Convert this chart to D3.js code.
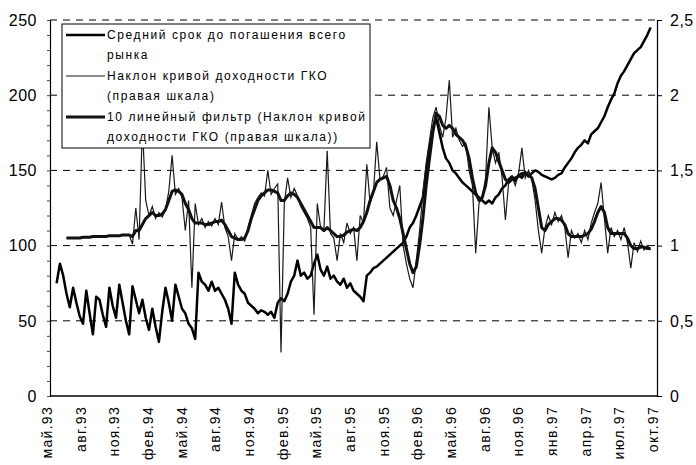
<!DOCTYPE html>
<html><head><meta charset="utf-8">
<script src="https://cdn.jsdelivr.net/npm/d3@7"></script>
<style>
body{margin:0;background:#fff;}
svg{display:block;font-family:"Liberation Sans",Arial,sans-serif;}
</style></head><body>
<svg id="chart" width="696" height="465"></svg>
<script>
// ---- data ----
const xLabels = ["май.93","авг.93","ноя.93","фев.94","май.94","авг.94","ноя.94","фев.95","май.95","авг.95","ноя.95","фев.96","май.96","авг.96","ноя.96","янв.97","апр.97","июл.97","окт.97"];
const tickFirst = -0.9, tickEvery = 10.2;   // label positions in observation index units
const leftTicks = [0,50,100,150,200,250];
const rightTicks = [0,0.5,1,1.5,2,2.5];
const rightTickLabels = ["0","0,5","1","1,5","2","2,5"];

// Средний срок до погашения всего рынка (left axis, days)
const maturity = [null,null,
 75,88,80,68,59,72,62,53,48,70,
 55,41,66,64,54,46,72,60,52,74,
 62,50,41,73,64,55,64,52,44,58,
 46,36,56,72,62,50,74,66,58,55,
 48,45,38,82,76,74,70,76,70,72,
 68,64,58,48,82,74,70,68,62,60,
 58,55,57,56,54,56,52,62,65,63,
 68,76,80,90,80,82,78,80,88,94,
 84,80,86,78,80,76,74,78,72,75,
 70,68,66,63,80,82,85,86,88,90,
 92,94,96,98,100,102,106,112,115,120,
 126,132,150,165,178,185,175,165,158,155,
 150,148,145,142,140,138,136,134,132,130,
 128,130,128,132,134,138,140,144,146,143,
 147,145,149,146,148,150,149,147,146,145,
 144,145,147,148,152,155,158,162,165,167,
 170,168,174,176,178,182,186,192,197,201,
 208,213,216,220,224,228,230,232,236,240,
 245];

// Наклон кривой доходности ГКО (right axis)
const slope = [null,null,null,null,null,
 1.05,1.05,1.05,1.05,1.05,1.055,1.055,1.055,1.06,1.06,
 1.06,1.06,1.06,1.065,1.065,1.065,1.065,1.07,1.07,1.07,
 1.01,1.25,1.04,1.80,1.30,1.20,1.26,1.18,1.22,1.19,
 1.24,1.36,1.60,1.34,1.38,1.32,1.10,1.30,0.72,1.28,
 1.14,1.18,1.12,1.16,1.13,1.18,1.14,1.29,1.12,1.06,
 0.90,1.08,1.04,1.06,1.03,1.12,1.20,1.28,1.32,1.35,
 1.33,1.50,1.34,1.38,1.41,0.29,1.28,1.45,1.32,1.38,
 1.33,1.26,1.22,1.18,1.12,0.54,1.28,1.12,1.10,1.63,
 1.08,1.05,0.90,1.08,1.02,1.15,1.08,1.12,0.90,1.20,
 1.15,1.54,1.28,1.35,1.69,1.44,1.46,1.52,1.25,1.20,
 1.30,1.40,1.00,0.88,0.78,0.72,0.90,1.10,1.35,1.55,
 1.70,1.85,1.92,1.80,1.72,1.85,2.10,1.72,1.78,1.70,
 1.66,1.68,1.50,1.40,0.95,1.28,1.32,1.45,1.92,1.65,
 1.55,1.62,1.45,1.17,1.42,1.46,1.40,1.48,1.65,1.45,
 1.50,1.44,1.30,1.10,0.95,1.12,1.20,1.14,1.22,1.16,
 1.20,1.12,0.92,1.10,1.05,1.08,1.02,1.10,1.04,1.15,
 1.22,1.28,1.42,1.18,0.95,1.12,1.06,1.10,1.04,1.12,
 1.02,0.85,1.02,0.96,1.03,0.97,1.00,0.97];

// 10 линейный фильтр (right axis)
const slopeFilter = [null,null,null,null,null,
 1.05,1.05,1.05,1.05,1.05,1.055,1.055,1.055,1.06,1.06,
 1.06,1.06,1.06,1.065,1.065,1.065,1.065,1.07,1.07,1.07,
 1.06,1.10,1.10,1.14,1.18,1.20,1.22,1.20,1.20,1.21,
 1.24,1.30,1.36,1.37,1.36,1.34,1.28,1.24,1.18,1.15,
 1.15,1.15,1.14,1.14,1.15,1.16,1.16,1.17,1.14,1.10,
 1.06,1.05,1.04,1.04,1.05,1.10,1.18,1.24,1.30,1.33,
 1.35,1.37,1.37,1.36,1.35,1.30,1.30,1.33,1.35,1.34,
 1.32,1.28,1.24,1.20,1.16,1.12,1.12,1.12,1.10,1.12,
 1.10,1.08,1.06,1.06,1.07,1.09,1.10,1.11,1.10,1.12,
 1.16,1.22,1.30,1.36,1.42,1.44,1.45,1.46,1.40,1.30,
 1.25,1.18,1.08,0.98,0.88,0.82,0.86,1.00,1.18,1.40,
 1.58,1.75,1.88,1.86,1.80,1.78,1.80,1.78,1.74,1.72,
 1.70,1.66,1.58,1.45,1.35,1.30,1.32,1.40,1.55,1.65,
 1.62,1.56,1.50,1.44,1.42,1.44,1.45,1.46,1.48,1.48,
 1.47,1.45,1.38,1.25,1.12,1.10,1.14,1.16,1.18,1.18,
 1.17,1.14,1.08,1.06,1.06,1.06,1.06,1.07,1.08,1.11,
 1.16,1.22,1.26,1.22,1.12,1.08,1.08,1.08,1.08,1.08,
 1.05,1.00,0.98,0.98,0.99,0.99,0.98,0.98];

const legendItems = [
  {lines:["Средний срок до погашения всего","рынка"], key:"maturity"},
  {lines:["Наклон кривой доходности ГКО","(правая шкала)"], key:"slope"},
  {lines:["10 линейный фильтр (Наклон кривой","доходности ГКО (правая шкала))"], key:"filter"}
];

// ---- layout ----
const svg = d3.select("#chart");
const plot = {left:50, right:657, top:20, bottom:396};
const x = d3.scaleLinear().domain([0, 183]).range([plot.left, plot.left + 183*3.3]);
const yL = d3.scaleLinear().domain([0,250]).range([plot.bottom, plot.top]);
const yR = d3.scaleLinear().domain([0,2.5]).range([plot.bottom, plot.top]);

const styles = {
  maturity:{stroke:"#000", width:2.5},
  slope:{stroke:"#1a1a1a", width:1.2},
  filter:{stroke:"#111", width:3}
};

// gridlines (dashed)
svg.append("g").selectAll("line").data(leftTicks.filter(d=>d>0)).join("line")
  .attr("x1", plot.left).attr("x2", plot.right)
  .attr("y1", d=>yL(d)).attr("y2", d=>yL(d))
  .attr("stroke","#000").attr("stroke-width",1)
  .attr("stroke-dasharray","7,6");

// left axis
const leftAxis = d3.axisLeft(yL).tickValues(d3.range(0,251,10)).tickSize(3).tickFormat("");
const gl = svg.append("g").attr("transform",`translate(${plot.left},0)`).call(leftAxis);
gl.select(".domain").attr("stroke","#000").attr("stroke-width",1.2);
gl.selectAll(".tick line").attr("stroke","#444");
svg.append("g").selectAll("text").data(leftTicks).join("text")
  .attr("x", 37).attr("y", d=>yL(d)).attr("dy","0.36em")
  .attr("text-anchor","end").attr("font-size",16).attr("letter-spacing",0.5)
  .attr("fill","#000").text(d=>d);

// right axis
const rightAxis = d3.axisRight(yR).tickValues(rightTicks).tickSize(5).tickFormat("");
const gr = svg.append("g").attr("transform",`translate(${plot.right},0)`).call(rightAxis);
gr.select(".domain").attr("stroke","#000").attr("stroke-width",1.2);
gr.selectAll(".tick line").attr("stroke","#000");
svg.append("g").selectAll("text").data(rightTicks).join("text")
  .attr("x", 670).attr("y", d=>yR(d)).attr("dy","0.36em")
  .attr("text-anchor","start").attr("font-size",16).attr("letter-spacing",0.5)
  .attr("fill","#000").text((d,i)=>rightTickLabels[i]);

// bottom axis
const tickIdx = xLabels.map((_,k)=>tickFirst + tickEvery*k);
svg.append("line").attr("x1",plot.left).attr("x2",plot.right)
  .attr("y1",plot.bottom).attr("y2",plot.bottom)
  .attr("stroke","#000").attr("stroke-width",1.5);
svg.append("g").selectAll("text").data(xLabels).join("text")
  .attr("transform",(d,k)=>`translate(${x(tickIdx[k])},406) rotate(-90)`)
  .attr("dy","0.36em").attr("text-anchor","end")
  .attr("font-size",14).attr("letter-spacing",1.3).attr("fill","#000")
  .text(d=>d);

// series
const lineL = d3.line().defined(d=>d!=null).x((d,i)=>x(i)).y(d=>yL(d));
const lineR = d3.line().defined(d=>d!=null).x((d,i)=>x(i)).y(d=>yR(d));
svg.append("path").datum(maturity).attr("d",lineL)
  .attr("fill","none").attr("stroke",styles.maturity.stroke).attr("stroke-width",styles.maturity.width).attr("stroke-linejoin","round");
svg.append("path").datum(slope).attr("d",lineR)
  .attr("fill","none").attr("stroke",styles.slope.stroke).attr("stroke-width",styles.slope.width);
svg.append("path").datum(slopeFilter).attr("d",lineR)
  .attr("fill","none").attr("stroke",styles.filter.stroke).attr("stroke-width",styles.filter.width).attr("stroke-linejoin","round");

// legend
const lg = svg.append("g");
lg.append("rect").attr("x",62).attr("y",24).attr("width",308).attr("height",124)
  .attr("fill","#fff").attr("stroke","#000").attr("stroke-width",1);
legendItems.forEach((it,k)=>{
  const cy = 35 + k*41;
  lg.append("line").attr("x1",66).attr("x2",105).attr("y1",cy).attr("y2",cy)
    .attr("stroke",styles[it.key].stroke).attr("stroke-width",styles[it.key].width);
  it.lines.forEach((t,j)=>{
    lg.append("text").attr("x",107).attr("y",cy + j*20).attr("dy","0.35em")
      .attr("font-size",12).attr("letter-spacing",1.6).attr("fill","#000").text(t);
  });
});
</script>
</body></html>
